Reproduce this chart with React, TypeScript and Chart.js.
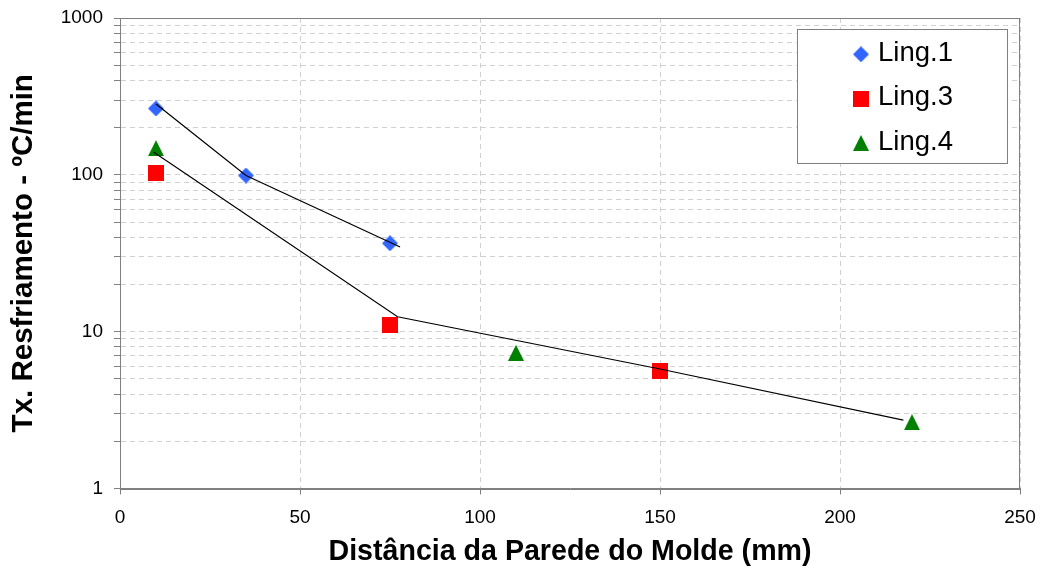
import React, { useEffect, useRef } from "react";
import { Chart, registerables } from "chart.js";

Chart.register(...registerables);

const FONT = "'Liberation Sans', Arial, Helvetica, sans-serif";

// Series (marker) data
const SERIES_LABELS = ["Ling.1", "Ling.3", "Ling.4"];
const SERIES_COLORS = ["#3366FF", "#FF0000", "#008000"];
const LING1_X = [10, 35, 75];
const LING1_Y = [265, 99, 36.6];
const LING3_X = [10, 75, 150];
const LING3_Y = [102, 11, 5.64];
const LING4_X = [10, 110, 220];
const LING4_Y = [148, 7.33, 2.65];

// Trend lines (black, drawn through)
const FIT1_X = [10, 35, 77.8];
const FIT1_Y = [283, 99, 34.7];
const FIT2_X = [9.3, 77.1, 150, 217.6];
const FIT2_Y = [140, 12.45, 5.78, 2.73];

// Axes
const X_TICKS = [0, 50, 100, 150, 200, 250];
const Y_TICKS = [
  1, 2, 3, 4, 5, 6, 7, 8, 9,
  10, 20, 30, 40, 50, 60, 70, 80, 90,
  100, 200, 300, 400, 500, 600, 700, 800, 900,
  1000,
];
const Y_TICK_LABELS = ["1", "10", "100", "1000"];
const X_TITLE = "Distância da Parede do Molde (mm)";
const Y_TITLE = "Tx. Resfriamento - ºC/min";

const toPoints = (xs: number[], ys: number[]) => xs.map((x, i) => ({ x, y: ys[i] }));

function makeMarker(shape: string, color: string): HTMLCanvasElement {
  const s = 16;
  const c = document.createElement("canvas");
  c.width = s;
  c.height = s;
  const g = c.getContext("2d")!;
  g.fillStyle = color;
  g.beginPath();
  if (shape === "diamond") {
    g.moveTo(s / 2, 0);
    g.lineTo(s, s / 2);
    g.lineTo(s / 2, s);
    g.lineTo(0, s / 2);
  } else if (shape === "square") {
    g.rect(0, 0, s, s);
  } else {
    g.moveTo(s / 2, 0);
    g.lineTo(s, s);
    g.lineTo(0, s);
  }
  g.closePath();
  g.fill();
  return c;
}

export default function App() {
  const ref = useRef<HTMLCanvasElement | null>(null);

  useEffect(() => {
    if (!ref.current) return;
    const markers = [
      makeMarker("diamond", SERIES_COLORS[0]),
      makeMarker("square", SERIES_COLORS[1]),
      makeMarker("triangle", SERIES_COLORS[2]),
    ];

    const framePlugin = {
      id: "frame",
      beforeDatasetsDraw(chart: any) {
        const { ctx, chartArea } = chart;
        ctx.save();
        ctx.strokeStyle = "#808080";
        ctx.lineWidth = 1;
        ctx.strokeRect(
          Math.round(chartArea.left) + 0.5,
          Math.round(chartArea.top) + 0.5,
          Math.round(chartArea.right - chartArea.left) - 1,
          Math.round(chartArea.bottom - chartArea.top)
        );
        ctx.restore();
      },
    };

    const legendPlugin = {
      id: "boxLegend",
      afterDraw(chart: any) {
        const { ctx } = chart;
        const bx = 797.5, by = 29.5, bw = 210, bh = 134;
        ctx.save();
        ctx.fillStyle = "#ffffff";
        ctx.fillRect(bx, by, bw, bh);
        ctx.strokeStyle = "#808080";
        ctx.lineWidth = 1;
        ctx.strokeRect(bx, by, bw, bh);
        const rows = [54.3, 98.5, 143];
        ctx.font = `27.5px ${FONT}`;
        ctx.fillStyle = "#000";
        ctx.textBaseline = "middle";
        ctx.textAlign = "left";
        SERIES_LABELS.forEach((lab, i) => {
          const m = markers[i];
          ctx.drawImage(m, 861 - m.width / 2, rows[i] - m.height / 2);
          ctx.fillText(lab, 878, rows[i] - 1);
        });
        ctx.restore();
      },
    };

    const chart = new Chart(ref.current, {
      type: "scatter",
      data: {
        datasets: [
          {
            label: "fit1",
            data: toPoints(FIT1_X, FIT1_Y),
            showLine: true,
            borderColor: "#000",
            borderWidth: 1.2,
            pointRadius: 0,
            order: 0,
          },
          {
            label: "fit2",
            data: toPoints(FIT2_X, FIT2_Y),
            showLine: true,
            borderColor: "#000",
            borderWidth: 1.2,
            pointRadius: 0,
            order: 0,
          },
          {
            label: SERIES_LABELS[0],
            data: toPoints(LING1_X, LING1_Y),
            pointStyle: markers[0] as any,
            pointRadius: 8,
            backgroundColor: SERIES_COLORS[0],
            borderColor: SERIES_COLORS[0],
            order: 1,
          },
          {
            label: SERIES_LABELS[1],
            data: toPoints(LING3_X, LING3_Y),
            pointStyle: markers[1] as any,
            pointRadius: 8,
            backgroundColor: SERIES_COLORS[1],
            borderColor: SERIES_COLORS[1],
            order: 1,
          },
          {
            label: SERIES_LABELS[2],
            data: toPoints(LING4_X, LING4_Y),
            pointStyle: markers[2] as any,
            pointRadius: 8,
            backgroundColor: SERIES_COLORS[2],
            borderColor: SERIES_COLORS[2],
            order: 1,
          },
        ],
      },
      options: {
        animation: false,
        responsive: false,
        devicePixelRatio: 1,
        layout: { padding: { top: 18, right: 21, left: 0, bottom: 0 } },
        plugins: {
          legend: { display: false },
          tooltip: { enabled: false },
          title: { display: false },
        },
        scales: {
          x: {
            type: "linear",
            min: 0,
            max: 250,
            afterBuildTicks: (scale: any) => {
              scale.ticks = X_TICKS.map((v) => ({ value: v }));
            },
            afterFit: (scale: any) => {
              scale.height = 87.5;
              scale.paddingLeft = 0;
              scale.paddingRight = 0;
            },
            ticks: {
              autoSkip: false,
              maxRotation: 0,
              padding: 12,
              color: "#000",
              font: { family: FONT, size: 19 },
              callback: (v: any) => String(v),
            },
            grid: {
              color: "#d0d0d0",
              lineWidth: 1,
              tickLength: 6,
              tickColor: "#808080",
              tickWidth: 1,
              tickBorderDash: [],
            },
            border: { display: true, color: "#808080", width: 1, dash: [5, 4] },
            title: {
              display: true,
              text: X_TITLE,
              color: "#000",
              font: { family: FONT, size: 28.6, weight: "bold" },
              padding: { top: 0, bottom: 7 },
            },
          },
          y: {
            type: "logarithmic",
            min: 1,
            max: 1000,
            afterBuildTicks: (scale: any) => {
              scale.ticks = Y_TICKS.map((v) => ({ value: v }));
            },
            afterFit: (scale: any) => {
              scale.width = 120;
              scale.paddingTop = 0;
              scale.paddingBottom = 0;
            },
            ticks: {
              autoSkip: false,
              padding: 11,
              color: "#000",
              font: { family: FONT, size: 19 },
              callback: (v: any) => (Y_TICK_LABELS.includes(String(v)) ? String(v) : ""),
            },
            grid: {
              color: "#d0d0d0",
              lineWidth: 1,
              tickLength: 6,
              tickColor: "#808080",
              tickWidth: 1,
              tickBorderDash: [],
            },
            border: { display: true, color: "#808080", width: 1, dash: [5, 4] },
            title: {
              display: true,
              text: Y_TITLE,
              color: "#000",
              font: { family: FONT, size: 29.5, weight: "bold" },
              padding: { top: 6.5, bottom: 0 },
            },
          },
        },
      } as any,
      plugins: [framePlugin, legendPlugin],
    });

    return () => chart.destroy();
  }, []);

  return (
    <div style={{ position: "absolute", left: 0, top: 0, width: 1041, height: 576, background: "#fff" }}>
      <canvas ref={ref} width={1041} height={576} style={{ display: "block" }} />
    </div>
  );
}
